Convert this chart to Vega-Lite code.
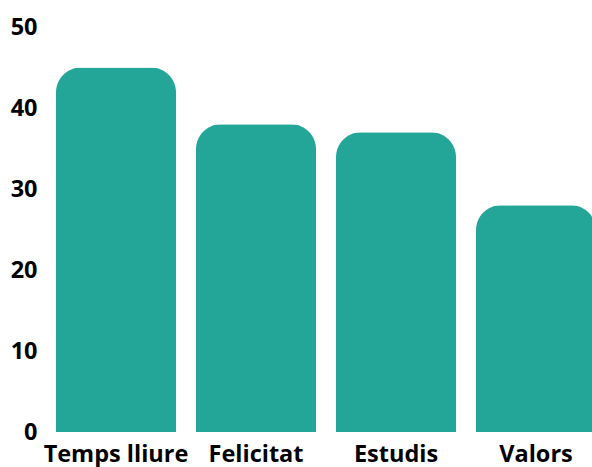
{
  "$schema": "https://vega.github.io/schema/vega-lite/v6.json",
  "autosize": {"type": "none"},
  "padding": {"left": 56, "top": 27, "right": 0, "bottom": 35},
  "width": 540,
  "height": 405,
  "background": "white",
  "config": {"view": {"stroke": null}, "font": "Open Sans"},
  "data": {"values": [
    {"category": "Temps lliure", "value": 45},
    {"category": "Felicitat", "value": 38},
    {"category": "Estudis", "value": 37},
    {"category": "Valors", "value": 28}
  ]},
  "mark": {"type": "bar", "color": "#23a698", "cornerRadiusTopLeft": 25, "cornerRadiusTopRight": 25},
  "encoding": {
    "x": {"field": "category", "type": "nominal", "sort": null,
      "scale": {"paddingInner": 0.142857, "paddingOuter": 0},
      "axis": {"title": null, "labelAngle": 0, "ticks": false, "domain": false,
        "labelFont": "Open Sans", "labelFontWeight": "bold", "labelFontSize": 23.5, "labelColor": "#000000", "labelPadding": 10}},
    "y": {"field": "value", "type": "quantitative",
      "scale": {"domain": [0, 50], "nice": false},
      "axis": {"title": null, "grid": false, "ticks": false, "domain": false, "values": [0, 10, 20, 30, 40, 50],
        "labelFont": "Open Sans", "labelFontWeight": "bold", "labelFontSize": 23.5, "labelColor": "#000000", "labelPadding": 19}}
  }
}
